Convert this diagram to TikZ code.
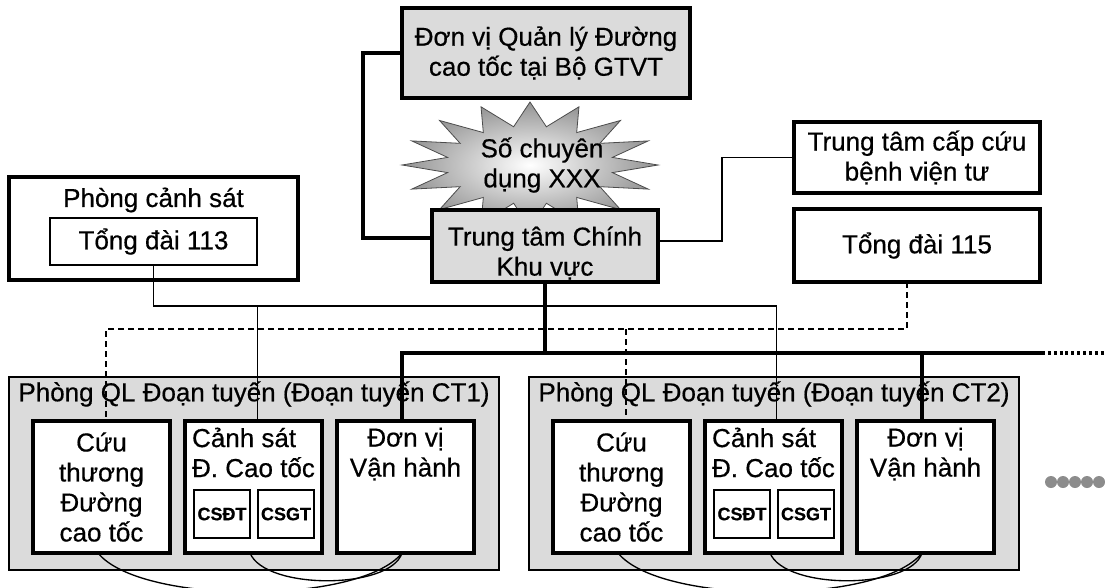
\documentclass[tikz,border=0pt]{standalone}
\usepackage{fontspec}
\setmainfont[FakeBold=0.5]{Liberation Sans}
\usetikzlibrary{positioning}

\begin{document}
\begin{tikzpicture}[x=0.75pt, y=-0.75pt,
    every node/.style={font=\fontsize{19.5}{22.5}\selectfont, inner sep=0pt, outer sep=0pt, align=center},
    box/.style={draw, line width=2.4pt},
    graybox/.style={box, fill=gray!28},
    unitbox/.style={box, fill=white, minimum width=102.75pt, minimum height=99pt},
    tinybox/.style={draw, line width=0.9pt, fill=white, minimum width=42pt, minimum height=36pt, font=\fontsize{13.5}{15}\selectfont\bfseries},
    segment/.style={draw, line width=1.1pt, fill=gray!28, minimum width=367.5pt, minimum height=144.75pt},
    busline/.style={line width=2.6pt},
    thinline/.style={line width=1pt},
    dashline/.style={line width=1pt, dash pattern=on 4.5pt off 3pt}
  ]
    \useasboundingbox (0,0) rectangle (1105,587);

    % upper part
    \node[graybox, minimum width=216pt, minimum height=67.5pt] (moT) at (546,53) {Đơn vị Quản lý Đường\\cao tốc tại Bộ GTVT};
    \shade[inner color=white, outer color=gray!85, draw=black!70, line width=0.6pt]
      (530,165) +(0:128 and 63)
      \foreach \k in {1,...,31} { -- +({\k*11.25}:{ifthenelse(mod(\k,2)==0,128,84)} and {ifthenelse(mod(\k,2)==0,63,39)}) } -- cycle;
    \node (sdn) at (542,165) {Số chuyên\\dụng XXX};
    \node[graybox, minimum width=169.5pt, minimum height=54pt] (ctr) at (545,246) {};
    \node (ctrt) at (545,253) {Trung tâm Chính\\Khu vực};
    \coordinate (lft) at (363,238);
    \draw[busline] (moT.west) -| (lft) -- (lft -| ctr.west);

    \node[box, minimum width=216.75pt, minimum height=77.25pt] (pcs) at (153.5,228.5) {};
    \node (pcst) at (153.5,200) {Phòng cảnh sát};
    \node[draw, line width=0.9pt, minimum width=155.25pt, minimum height=35.25pt] (t113) at (153.5,241.5) {Tổng đài 113};

    \node[box, minimum width=184.5pt, minimum height=53.25pt] (bvt) at (917,157.5) {Trung tâm cấp cứu\\bệnh viện tư};
    \node[box, minimum width=184.5pt, minimum height=54.75pt] (t115) at (917,245.5) {Tổng đài 115};
    \coordinate (rgt) at (722,241);
    \draw[thinline] (rgt -| ctr.east) -- (rgt) |- (bvt.west);

    % road segments
    \node[segment] (seg1) at (254,473.5) {};
    \node (seg1t) at (254,394) {Phòng QL Đoạn tuyến (Đoạn tuyến CT1)};
    \node[segment] (seg2) at (774,473.5) {};
    \node (seg2t) at (774,394) {Phòng QL Đoạn tuyến (Đoạn tuyến CT2)};

    \node[unitbox] (cuu1) at (101.5,487) {Cứu\\thương\\Đường\\cao tốc};
    \node[unitbox, right=11.25pt of cuu1] (csat1) {};
    \node[unitbox, right=11.25pt of csat1] (dvh1) {};
    \node[unitbox] (cuu2) at (621.5,487) {Cứu\\thương\\Đường\\cao tốc};
    \node[unitbox, right=11.25pt of cuu2] (csat2) {};
    \node[unitbox, right=11.25pt of csat2] (dvh2) {};

    \node[below=5pt of csat1.north, align=left] (csat1t) {Cảnh sát\\Đ. Cao tốc};
    \node[below=5pt of dvh1.north] (dvh1t) {Đơn vị\\Vận hành};
    \node[tinybox] (csdt1) at (222,514) {CSĐT};
    \node[tinybox] (csgt1) at (286,514) {CSGT};
    \node[below=5pt of csat2.north, align=left] (csat2t) {Cảnh sát\\Đ. Cao tốc};
    \node[below=5pt of dvh2.north] (dvh2t) {Đơn vị\\Vận hành};
    \node[tinybox] (csdt2) at (742,514) {CSĐT};
    \node[tinybox] (csgt2) at (806,514) {CSGT};

    % links
    \coordinate (thn) at (0,306);
    \coordinate (dsh) at (0,329);
    \coordinate (busE) at (1042,353);
    \coordinate (busF) at (1105,353);
    \draw[thinline] (t113.south) |- ([xshift=2pt]csat2.north |- thn) -- ([xshift=2pt]csat2.north);
    \draw[thinline] ([xshift=3pt]csat1.north |- thn) -- ([xshift=3pt]csat1.north);
    \draw[dashline] ([xshift=-7.5pt]t115.south) |- ([xshift=3.4pt]cuu1.north |- dsh) -- ([xshift=3.4pt]cuu1.north);
    \draw[dashline] ([xshift=3.4pt]cuu2.north |- dsh) -- ([xshift=3.4pt]cuu2.north);
    \draw[busline] (ctr.south) -- (ctr.south |- busE);
    \draw[busline] ([xshift=-2.6pt]dvh1.north) |- (busE);
    \draw[busline] ([xshift=-2.6pt]dvh2.north) -- ([xshift=-2.6pt]dvh2.north |- busE);
    \draw[busline, dash pattern=on 2.2pt off 2.2pt] (busE) -- (busF);

    \draw[thinline] ([xshift=-2.6pt]cuu1.south) .. controls +(42,52) and +(-42,52) .. ([xshift=-2.6pt]dvh1.south);
    \draw[thinline] ([xshift=-2.6pt]csat1.south) .. controls +(15,37) and +(-12,37) .. ([xshift=-2.6pt]dvh1.south);
    \draw[thinline] ([xshift=-2.6pt]cuu2.south) .. controls +(42,52) and +(-42,52) .. ([xshift=-2.6pt]dvh2.south);
    \draw[thinline] ([xshift=-2.6pt]csat2.south) .. controls +(15,37) and +(-12,37) .. ([xshift=-2.6pt]dvh2.south);

    \foreach \k in {0,...,4} \fill[gray!90] (1051+12*\k,482) circle (4.5pt);
\end{tikzpicture}
\end{document}
